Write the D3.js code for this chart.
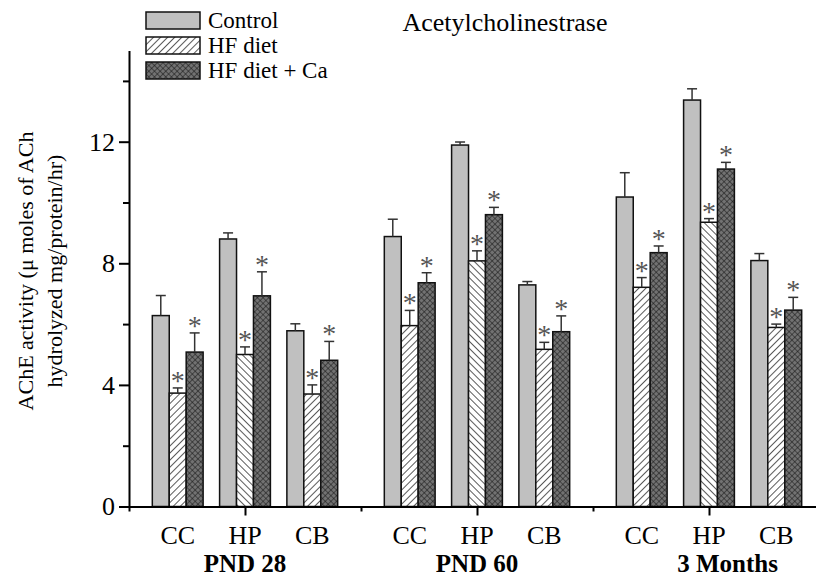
<!DOCTYPE html>
<html>
  <head>
    <title>Acetylcholinestrase</title>
    <style type="text/css">
        body { margin: 0; background: #fff; }
        svg { font-family: "Liberation Serif", "Times New Roman", serif; }
        svg text { font-family: "Liberation Serif", "Times New Roman", serif; fill: #000; }
        .axis path, .axis line { stroke: #000; stroke-width: 2px; }
        .axis text { font-size: 26px; font-family: "Liberation Serif", serif; }
    </style>
  </head>
  <body>
    <svg width="816" height="576"></svg>
    <script src="https://d3js.org/d3.v7.min.js"></script>
    <script>

    var serif = '"Liberation Serif", "Times New Roman", serif';

    // Data
    var periods = ["PND 28", "PND 60", "3 Months"];
    var regions = ["CC", "HP", "CB"];
    var series = ["Control", "HF diet", "HF diet + Ca"];

    // one value per period x region (CC, HP, CB for PND 28, PND 60, 3 Months)
    var control     = [6.28, 8.80, 5.78, 8.88, 11.89, 7.29, 10.18, 13.37, 8.09];
    var controlErr  = [0.66, 0.20, 0.23, 0.57, 0.10, 0.11, 0.80, 0.37, 0.23];
    var hfDiet      = [3.73, 5.00, 3.70, 5.95, 8.08, 5.17, 7.21, 9.35, 5.89];
    var hfDietErr   = [0.17, 0.25, 0.30, 0.50, 0.33, 0.23, 0.32, 0.12, 0.11];
    var hfDietCa    = [5.08, 6.93, 4.81, 7.36, 9.60, 5.75, 8.35, 11.10, 6.46];
    var hfDietCaErr = [0.63, 0.79, 0.62, 0.33, 0.24, 0.52, 0.22, 0.22, 0.42];

    // which series get a significance asterisk
    var starred = [false, true, true];

    var yTicks = [0, 4, 8, 12];
    var yMinorTicks = [2, 6, 10, 14];

    var values = [control, hfDiet, hfDietCa];
    var errors = [controlErr, hfDietErr, hfDietCaErr];

    var svg = d3.select("svg");

    var x = d3.scaleLinear().domain([0, 6]).range([129, 825]);
    var y = d3.scaleLinear().domain([0, 15]).range([506.5, 50.5]);

    var groupStep = 0.58, barStep = 0.146;
    var barW = x(barStep) - x(0);

    // Patterns
    var defs = svg.append("defs");
    function hatch(id, dir) {
        var p = defs.append("pattern")
            .attr("id", id)
            .attr("patternUnits", "userSpaceOnUse")
            .attr("width", 5).attr("height", 5)
            .attr("patternTransform", "rotate(" + dir + ")");
        p.append("rect").attr("width", 5).attr("height", 5).attr("fill", "#fff");
        p.append("line").attr("x1", 0).attr("y1", 0).attr("x2", 0).attr("y2", 5)
            .attr("stroke", "#000").attr("stroke-width", 1.3);
    }
    hatch("hatchF", 45);
    hatch("hatchB", -45);

    var cross = defs.append("pattern")
        .attr("id", "cross")
        .attr("patternUnits", "userSpaceOnUse")
        .attr("width", 4).attr("height", 4)
        .attr("patternTransform", "rotate(45)");
    cross.append("rect").attr("width", 4).attr("height", 4).attr("fill", "#727272");
    cross.append("line").attr("x1", 0).attr("y1", 0).attr("x2", 0).attr("y2", 4)
        .attr("stroke", "#111").attr("stroke-width", 1);
    cross.append("line").attr("x1", 0).attr("y1", 0).attr("x2", 4).attr("y2", 0)
        .attr("stroke", "#111").attr("stroke-width", 1);

    function fillFor(s, r) {
        if (s == 0) return "#c0c0c0";
        if (s == 1) return r == 1 ? "url(#hatchB)" : "url(#hatchF)";
        return "url(#cross)";
    }

    // flatten into bar records
    var bars = [];
    periods.forEach(function(p, pi) {
        regions.forEach(function(r, ri) {
            series.forEach(function(s, si) {
                var k = pi * 3 + ri;
                bars.push({
                    p: pi, r: ri, s: si,
                    value: values[si][k],
                    err: errors[si][k],
                    cx: x(2 * pi + 1 + (ri - 1) * groupStep + (si - 1) * barStep)
                });
            });
        });
    });

    // Bars
    svg.append("g").selectAll("rect")
        .data(bars)
        .enter().append("rect")
        .attr("x", function(d) { return d.cx - barW / 2; })
        .attr("width", barW)
        .attr("y", function(d) { return y(d.value); })
        .attr("height", function(d) { return y(0) - y(d.value); })
        .attr("fill", function(d) { return fillFor(d.s, d.r); })
        .attr("stroke", "#111")
        .attr("stroke-width", 1.5);

    // Error bars (upper only)
    var eb = svg.append("g").attr("stroke", "#333").attr("stroke-width", 1.5);
    eb.selectAll("line.v")
        .data(bars)
        .enter().append("line")
        .attr("x1", function(d) { return d.cx; })
        .attr("x2", function(d) { return d.cx; })
        .attr("y1", function(d) { return y(d.value); })
        .attr("y2", function(d) { return y(d.value + d.err); });
    eb.selectAll("line.c")
        .data(bars)
        .enter().append("line")
        .attr("x1", function(d) { return d.cx - 5; })
        .attr("x2", function(d) { return d.cx + 5; })
        .attr("y1", function(d) { return y(d.value + d.err); })
        .attr("y2", function(d) { return y(d.value + d.err); });

    // Asterisks
    svg.append("g").selectAll("text")
        .data(bars.filter(function(d) { return starred[d.s]; }))
        .enter().append("text")
        .attr("x", function(d) { return d.cx; })
        .attr("y", function(d) { return y(d.value + d.err) + 2; })
        .attr("text-anchor", "middle")
        .style("font-family", serif)
        .style("font-size", "28px")
        .style("fill", "#555")
        .text("*");

    // Y axis
    svg.append("g")
        .attr("class", "axis")
        .attr("transform", "translate(" + x(0) + ",0)")
        .call(d3.axisLeft(y).tickValues(yTicks).tickSize(10).tickSizeOuter(0).tickPadding(4))
        .attr("font-family", serif);
    svg.append("g")
        .attr("class", "axis")
        .attr("transform", "translate(" + x(0) + ",0)")
        .call(d3.axisLeft(y).tickValues(yMinorTicks).tickSize(6).tickSizeOuter(0).tickFormat(""))
      .select(".domain").remove();

    // X axis
    svg.append("g")
        .attr("class", "axis")
        .attr("transform", "translate(0," + y(0) + ")")
        .call(d3.axisBottom(x).tickValues([1, 3, 5]).tickSize(9).tickSizeOuter(0).tickFormat(""));
    svg.append("g")
        .attr("class", "axis")
        .attr("transform", "translate(0," + y(0) + ")")
        .call(d3.axisBottom(x).tickValues([0, 2, 4]).tickSize(5).tickSizeOuter(0).tickFormat(""))
      .select(".domain").remove();

    // Region labels
    var labels = svg.append("g");
    periods.forEach(function(p, pi) {
        regions.forEach(function(r, ri) {
            labels.append("text")
                .attr("x", x(2 * pi + 1 + (ri - 1) * groupStep))
                .attr("y", 544)
                .attr("text-anchor", "middle")
                .style("font-family", serif)
                .style("font-size", "26px")
                .text(r);
        });
        labels.append("text")
            .attr("x", x(2 * pi + 1 + (pi == 2 ? 0.16 : 0)))
            .attr("y", 572)
            .attr("text-anchor", "middle")
            .style("font-family", serif)
            .style("font-size", "25px")
            .style("font-weight", "bold")
            .text(p);
    });

    // Y axis title
    var yt = svg.append("text")
        .attr("transform", "translate(33,271) rotate(-90)")
        .attr("text-anchor", "middle")
        .style("font-family", serif)
        .style("font-size", "22px");
    yt.append("tspan").attr("x", 0).attr("dy", 0).text("AChE activity (\u03bc moles of ACh");
    yt.append("tspan").attr("x", 0).attr("dy", 29).text("hydrolyzed mg/protein/hr)");

    // Title
    svg.append("text")
        .attr("x", 505)
        .attr("y", 31)
        .attr("text-anchor", "middle")
        .style("font-family", serif)
        .style("font-size", "26px")
        .text("Acetylcholinestrase");

    // Legend
    var legend = svg.append("g").selectAll("g")
        .data(series)
        .enter().append("g")
        .attr("transform", function(d, i) { return "translate(146," + (12 + i * 25) + ")"; });
    legend.append("rect")
        .attr("width", 54).attr("height", 17)
        .attr("fill", function(d, i) { return fillFor(i, 0); })
        .attr("stroke", "#111").attr("stroke-width", 1.5);
    legend.append("text")
        .attr("x", 62).attr("y", 16)
        .style("font-family", serif)
        .style("font-size", "23px")
        .text(function(d) { return d; });

    </script>
  </body>
</html>
